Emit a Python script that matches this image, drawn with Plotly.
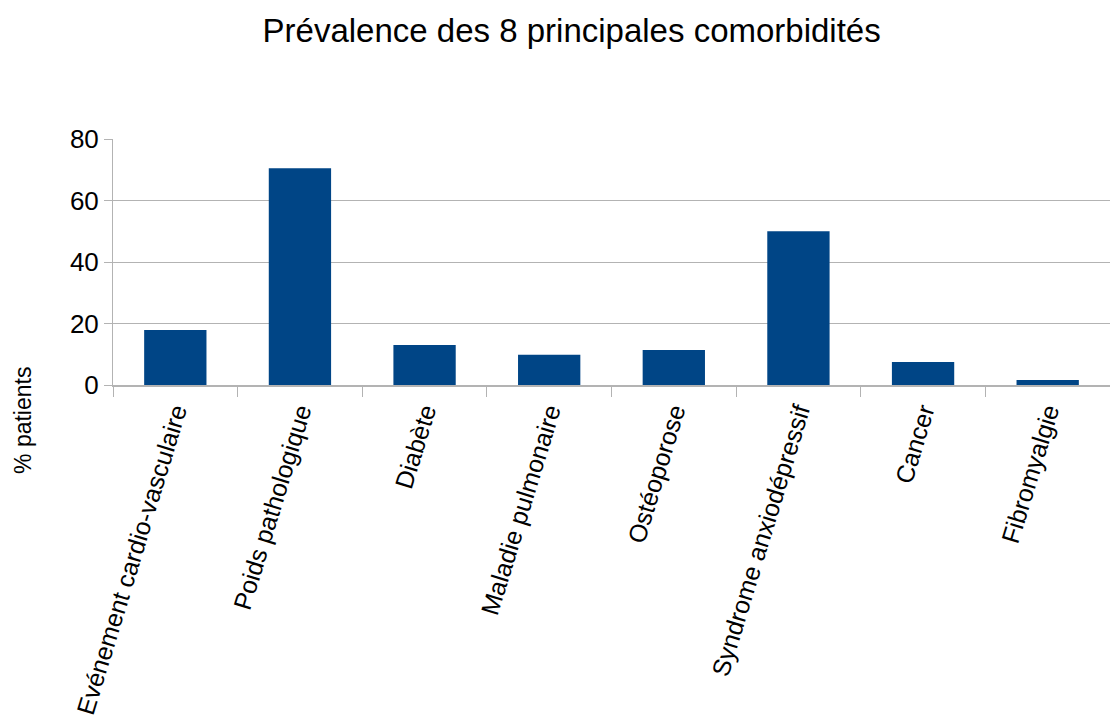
import plotly.graph_objects as go

categories = [
    "Evénement cardio-vasculaire",
    "Poids pathologique",
    "Diabète",
    "Maladie pulmonaire",
    "Ostéoporose",
    "Syndrome anxiodépressif",
    "Cancer",
    "Fibromyalgie",
]
values = [17.9, 70.5, 13.0, 9.8, 11.4, 50.0, 7.5, 1.6]
y_ticks = [0, 20, 40, 60, 80]

FONT = "Liberation Sans, Arial, sans-serif"

fig = go.Figure(
    go.Bar(
        x=categories,
        y=values,
        marker=dict(color="#004586", line=dict(width=0)),
        width=0.5,
    )
)

fig.update_layout(
    width=1110,
    height=715,
    margin=dict(l=113, r=0, t=139, b=330),
    paper_bgcolor="white",
    plot_bgcolor="white",
    showlegend=False,
    font=dict(family=FONT, color="black"),
    title=dict(
        text="Prévalence des 8 principales comorbidités",
        x=0.515,
        xanchor="center",
        y=0.958,
        yanchor="middle",
        font=dict(size=33, family=FONT, color="black"),
    ),
    annotations=[
        dict(
            text="% patients",
            xref="paper",
            yref="paper",
            x=-0.091,
            y=-0.145,
            xanchor="center",
            yanchor="middle",
            textangle=-90,
            showarrow=False,
            font=dict(size=23, family=FONT, color="black"),
        )
    ],
)

fig.update_xaxes(
    type="category",
    automargin=False,
    tickangle=-73,
    tickfont=dict(size=25, family=FONT, color="black"),
    showline=True,
    linecolor="#b3b3b3",
    linewidth=2,
    ticks="outside",
    tickson="boundaries",
    ticklen=10,
    tickcolor="#b3b3b3",
    tickwidth=1,
    showgrid=False,
)

fig.update_yaxes(
    range=[0, 80],
    automargin=False,
    tickvals=y_ticks,
    tickfont=dict(size=26, family=FONT, color="black"),
    showgrid=True,
    gridcolor="#b3b3b3",
    gridwidth=1,
    showline=True,
    linecolor="#b3b3b3",
    linewidth=1,
    ticks="outside",
    ticklen=8,
    tickcolor="#b3b3b3",
    zeroline=False,
)

fig.write_html("out.html")
